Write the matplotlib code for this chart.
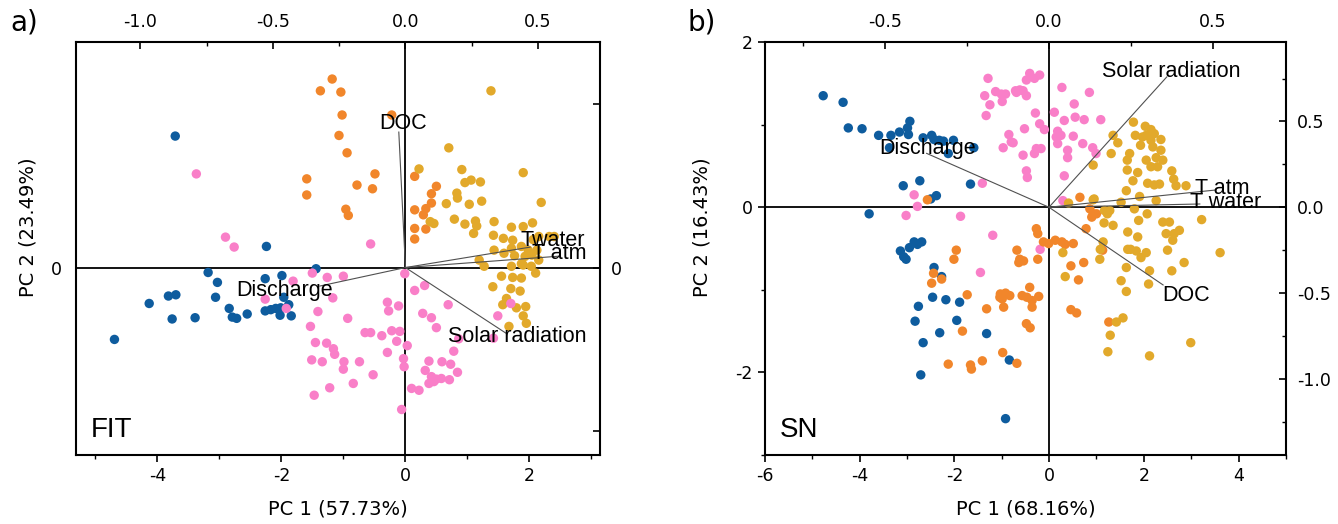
import numpy as np
import matplotlib
matplotlib.use('Agg')
import matplotlib.pyplot as plt
from matplotlib.ticker import FixedLocator

plt.rcParams['axes.unicode_minus'] = False
plt.rcParams['font.family'] = 'DejaVu Sans'

colors = {'winter': '#0e5c9e', 'spring': '#f97fc8', 'summer': '#e2a92b', 'autumn': '#f1862b'}

# ---- FIT: PCA scores per season (PC1, PC2)
fit_winter = [(-3.71, 2.12), (-4.69, -1.16), (-4.13, -0.58), (-3.82, -0.46), (-3.70, -0.44), (-3.76, -0.83),
              (-3.39, -0.81), (-3.18, -0.08), (-3.03, -0.24), (-3.06, -0.48), (-2.84, -0.66), (-2.79, -0.80),
              (-2.72, -0.82), (-2.55, -0.75), (-2.24, 0.34), (-2.26, -0.18), (-1.99, -0.13), (-2.26, -0.70),
              (-2.17, -0.68), (-2.09, -0.66), (-2.01, -0.65), (-2.02, -0.77), (-1.88, -0.60), (-1.84, -0.78),
              (-1.96, -0.48), (-1.44, -0.02)]
fit_autumn = [(-1.18, 3.04), (-1.37, 2.85), (-1.04, 2.83), (-1.02, 2.46), (-1.07, 2.13), (-0.94, 1.85),
              (-0.49, 1.51), (-0.78, 1.33), (-0.53, 1.27), (-1.59, 1.43), (-1.59, 1.17), (-0.96, 0.94),
              (-0.92, 0.84), (-0.22, 2.46), (0.15, 1.47), (0.50, 1.31), (0.42, 1.19), (0.42, 1.04),
              (0.33, 0.95), (0.15, 0.93), (0.29, 0.85), (0.15, 0.63), (0.33, 0.62), (0.15, 0.46)]
fit_summer = [(1.38, 2.85), (0.70, 1.93), (0.22, 1.59), (0.91, 1.58), (1.90, 1.53), (0.96, 1.37), (1.06, 1.41),
              (1.21, 1.38), (0.83, 1.20), (0.84, 1.12), (0.66, 1.03), (1.03, 1.02), (1.23, 1.07), (2.19, 1.05),
              (0.79, 0.78), (1.13, 0.75), (0.96, 0.70), (1.15, 0.67), (1.10, 0.55), (1.43, 0.74), (1.71, 0.65),
              (1.90, 0.66), (2.05, 0.72), (1.42, 0.52), (1.58, 0.47), (1.73, 0.44), (0.40, 0.74), (0.46, 0.71),
              (2.06, 0.45), (2.15, 0.50), (2.32, 0.50), (2.40, 0.50), (1.71, 0.31), (1.87, 0.34), (1.98, 0.28),
              (2.12, 0.28), (1.43, 0.28), (1.59, 0.23), (1.76, 0.19), (1.93, 0.18), (2.04, 0.20), (2.15, 0.12),
              (1.19, 0.12), (1.27, 0.02), (1.71, 0.02), (1.87, 0.06), (2.03, 0.02), (2.10, -0.09), (1.55, -0.14),
              (1.73, -0.16), (1.87, -0.17), (1.41, -0.31), (1.70, -0.34), (1.85, -0.38), (1.63, -0.50),
              (1.57, -0.60), (1.79, -0.65), (1.94, -0.63), (1.90, -0.78), (1.95, -0.90), (1.67, -0.95),
              (1.90, 0.04)]
fit_spring = [(-3.37, 1.51), (-2.90, 0.49), (-2.76, 0.33), (-0.56, 0.38), (-1.50, -0.09), (-1.81, -0.22),
              (-1.26, -0.16), (-2.26, -0.51), (-1.92, -0.66), (-1.17, -0.49), (-1.41, -0.71), (-1.53, -0.95),
              (-1.45, -1.21), (-1.27, -1.22), (-1.16, -1.31), (-1.14, -1.40), (-1.51, -1.49), (-1.34, -1.52),
              (-1.22, -1.94), (-1.47, -2.06), (-1.00, -0.14), (-0.01, -0.10), (0.15, -0.37), (0.31, -0.29),
              (-0.29, -0.56), (-0.27, -0.70), (-0.11, -0.62), (0.69, -0.60), (0.28, -0.74), (0.42, -0.81),
              (0.50, -0.97), (-0.93, -0.82), (-0.65, -1.05), (-0.56, -1.05), (-0.38, -1.10), (-0.22, -1.02),
              (-0.09, -1.03), (-0.14, -1.19), (0.03, -1.26), (-0.29, -1.37), (-0.99, -1.52), (-1.00, -1.64),
              (-0.74, -1.52), (-0.52, -1.73), (-0.84, -1.87), (-0.03, -1.47), (-0.02, -1.60), (0.38, -1.51),
              (0.32, -1.66), (0.59, -1.52), (0.73, -1.56), (0.78, -1.35), (0.84, -1.69), (0.42, -1.76),
              (0.50, -1.80), (0.58, -1.79), (0.38, -1.87), (0.46, -1.84), (0.71, -1.81), (0.10, -1.95),
              (0.22, -1.98), (-0.06, -2.29), (0.86, -1.15), (1.42, -1.14), (1.70, -0.58), (1.49, -0.78)]

# FIT loadings
fit_vars = ['DOC', 'Discharge', 'Solar radiation', 'Twater', 'T atm']
fit_load_x = [-0.025, -0.323, 0.379, 0.470, 0.583]
fit_load_y = [0.498, -0.068, -0.241, 0.075, 0.042]

# ---- SN: PCA scores per season
sn_winter = [(-4.77, 1.35), (-4.35, 1.27), (-4.24, 0.96), (-3.95, 0.95), (-3.60, 0.87), (-3.34, 0.87),
             (-3.16, 0.91), (-2.97, 0.88), (-2.99, 0.96), (-2.94, 1.04), (-2.66, 0.84), (-2.48, 0.87),
             (-2.43, 0.82), (-2.32, 0.81), (-2.23, 0.80), (-2.02, 0.81), (-1.59, 0.72), (-2.13, 0.65),
             (-3.37, 0.72), (-3.08, 0.26), (-2.73, 0.32), (-1.66, 0.28), (-2.50, 0.10), (-2.38, 0.14),
             (-3.80, -0.08), (-3.14, -0.53), (-3.07, -0.60), (-3.02, -0.63), (-2.95, -0.49), (-2.85, -0.42),
             (-2.69, -0.42), (-2.78, -0.45), (-2.43, -0.73), (-2.27, -0.84), (-2.46, -1.09), (-2.18, -1.12),
             (-1.89, -1.15), (-2.76, -1.20), (-2.83, -1.38), (-1.95, -1.37), (-2.31, -1.52), (-1.32, -1.53),
             (-2.66, -1.64), (-0.84, -1.85), (-2.71, -2.03), (-0.92, -2.56)]
sn_spring = [(-1.29, 1.56), (-1.36, 1.35), (-1.25, 1.24), (-1.13, 1.40), (-1.01, 1.37), (-0.92, 1.37),
             (-0.99, 1.28), (-1.33, 1.11), (-0.71, 1.41), (-0.62, 1.42), (-0.55, 1.41), (-0.48, 1.35),
             (-0.48, 1.54), (-0.41, 1.62), (-0.31, 1.56), (-0.20, 1.60), (-0.69, 1.39), (0.27, 1.45),
             (0.85, 1.39), (-0.29, 1.14), (0.11, 1.15), (0.53, 1.25), (0.32, 1.05), (0.55, 1.09), (0.74, 1.06),
             (1.09, 1.06), (-0.85, 0.88), (-0.52, 0.95), (-0.20, 1.01), (-0.10, 0.94), (-0.76, 0.78),
             (-0.97, 0.72), (-0.80, 0.79), (0.18, 0.92), (0.25, 0.87), (0.15, 0.85), (0.18, 0.77), (0.51, 0.86),
             (0.71, 0.77), (0.92, 0.72), (0.99, 0.65), (0.39, 0.69), (0.39, 0.60), (-0.27, 0.71), (-0.17, 0.71),
             (-0.31, 0.65), (-0.55, 0.63), (-0.48, 0.44), (-0.46, 0.36), (0.32, 0.38), (0.29, 0.08),
             (-1.41, 0.29), (-2.85, 0.15), (-2.78, 0.01), (-3.02, -0.10), (-1.87, -0.11), (-1.19, -0.34),
             (-1.45, -0.79), (-0.19, -0.51)]
sn_autumn = [(-2.57, 0.09), (-1.96, -0.52), (-2.01, -0.63), (-2.44, -0.80), (-2.48, -0.92), (-2.27, -0.87),
             (-1.73, -1.06), (-1.83, -1.50), (-2.13, -1.90), (-1.66, -1.91), (-1.64, -1.96), (-1.41, -1.86),
             (-0.98, -1.76), (-0.68, -1.89), (-1.32, -1.23), (-1.03, -1.05), (-0.92, -1.04), (-0.83, -1.07),
             (-0.99, -1.11), (-0.96, -1.21), (-1.04, -1.09), (-0.57, -1.07), (-0.47, -1.09), (-0.36, -1.13),
             (-0.22, -1.08), (-0.41, -0.97), (-0.36, -1.21), (-0.48, -1.41), (-0.40, -1.46), (-0.68, -0.52),
             (-0.62, -0.63), (-0.54, -0.65), (-0.64, -0.67), (-0.24, -0.63), (-0.27, -0.26), (-0.24, -0.32),
             (-0.12, -0.42), (-0.01, -0.44), (0.13, -0.40), (0.27, -0.42), (0.34, -0.45), (0.51, -0.44),
             (0.65, 0.12), (0.86, -0.02), (0.93, -0.08), (0.90, -0.12), (1.00, -0.08), (0.78, -0.26),
             (1.13, -0.52), (0.46, -0.71), (0.73, -0.67), (0.62, -0.88), (0.46, -1.24), (0.58, -1.28),
             (1.26, -1.39)]
sn_summer = [(1.78, 1.03), (2.03, 0.98), (2.15, 0.94), (2.22, 0.89), (2.05, 0.87), (1.97, 0.85), (2.15, 0.81),
             (2.36, 0.82), (1.82, 0.87), (1.93, 0.75), (2.19, 0.73), (2.36, 0.69), (1.35, 0.87), (1.45, 0.78),
             (1.31, 0.65), (1.70, 0.65), (1.65, 0.57), (2.05, 0.57), (2.26, 0.60), (2.15, 0.49), (2.29, 0.49),
             (2.40, 0.57), (1.65, 0.45), (1.87, 0.42), (1.77, 0.32), (2.08, 0.29), (2.22, 0.27), (2.33, 0.28),
             (2.59, 0.44), (2.63, 0.34), (2.68, 0.26), (2.89, 0.26), (0.93, 0.51), (1.63, 0.20), (1.91, 0.13),
             (1.52, 0.06), (1.80, -0.02), (2.07, -0.08), (2.26, 0.08), (2.40, -0.18), (2.54, -0.18),
             (2.64, -0.32), (2.47, -0.32), (2.61, -0.40), (2.75, -0.28), (3.22, -0.15), (3.61, -0.55),
             (1.89, -0.16), (1.66, -0.30), (1.87, -0.36), (1.66, -0.51), (1.84, -0.53), (2.05, -0.55),
             (1.94, -0.61), (1.63, -0.73), (2.12, -0.77), (2.50, -0.52), (2.59, -0.77), (2.85, -0.67),
             (1.52, -0.89), (1.63, -1.02), (2.10, -0.93), (1.08, -0.51), (1.07, -0.63), (1.14, -0.42),
             (1.17, -0.04), (1.28, -0.04), (0.95, 0.10), (1.23, -0.08), (1.35, -0.22), (0.34, -0.84),
             (0.29, -0.55), (0.41, 0.05), (0.93, 0.09), (1.42, -1.39), (1.56, -1.34), (1.29, -1.55),
             (1.24, -1.75), (2.12, -1.80), (2.99, -1.64), (1.72, -0.51), (1.16, -0.19)]

# SN loadings
sn_vars = ['Solar radiation', 'Discharge', 'DOC', 'T atm', 'T water']
sn_load_x = [0.359, -0.373, 0.348, 0.506, 0.460]
sn_load_y = [0.759, 0.314, -0.453, 0.100, 0.019]

fig = plt.figure(figsize=(13.38, 5.24), dpi=100)


def draw_panel(pos, scores, load_x, load_y, names, label_offsets, cfg):
    ax = fig.add_axes(pos)
    for season, pts in scores.items():
        xy = np.array(pts)
        ax.scatter(xy[:, 0], xy[:, 1], s=46, color=colors[season], edgecolors='none', zorder=3)
    ax.axhline(0, color='black', lw=1.3, zorder=1)
    ax.axvline(0, color='black', lw=1.3, zorder=1)
    ax.set_xlim(cfg['xlim'])
    ax.set_ylim(cfg['ylim'])
    ax.set_xticks(cfg['xticks'])
    ax.set_xticklabels([f'{v:g}' for v in cfg['xticks']])
    ax.xaxis.set_minor_locator(FixedLocator(cfg['xminor']))
    ax.set_yticks(cfg['yticks'])
    ax.set_yticklabels([f'{v:g}' for v in cfg['yticks']])
    ax.yaxis.set_minor_locator(FixedLocator(cfg['yminor']))
    ax.tick_params(which='major', direction='out', length=5, width=1.2, labelsize=12.5, pad=4)
    ax.tick_params(which='minor', direction='out', length=3, width=1.0)
    ax.tick_params(axis='y', which='major', length=cfg['ylen'], pad=cfg['ypad'])
    for sp in ax.spines.values():
        sp.set_linewidth(1.5)
    ax.set_xlabel(cfg['xlabel'], fontsize=14)
    ax.set_ylabel(cfg['ylabel'], fontsize=14)
    ax.xaxis.set_label_coords(0.5, -0.108)
    ax.yaxis.set_label_coords(cfg['ylabx'], 0.552)
    ax.text(0.029, 0.044, cfg['tag'], transform=ax.transAxes, fontsize=20,
            family='Liberation Sans', va='baseline', ha='left')

    # loadings axes (top / right)
    axl = fig.add_axes(pos, frameon=False)
    axl.patch.set_visible(False)
    axl.set_xlim(cfg['lxlim'])
    axl.set_ylim(cfg['lylim'])
    axl.xaxis.tick_top()
    axl.yaxis.tick_right()
    axl.set_xticks(cfg['lxticks'])
    axl.set_xticklabels(cfg['lxlabels'])
    axl.xaxis.set_minor_locator(FixedLocator(cfg['lxminor']))
    axl.set_yticks(cfg['lyticks'])
    axl.set_yticklabels(cfg['lylabels'])
    axl.yaxis.set_minor_locator(FixedLocator(cfg['lyminor']))
    axl.tick_params(which='major', direction='in', length=5, width=1.2, labelsize=12.5, pad=8)
    axl.tick_params(which='minor', direction='in', length=3, width=1.0)
    for name, lx, ly in zip(names, load_x, load_y):
        axl.plot([0, lx], [0, ly], color='#505050', lw=0.8, zorder=4)
        dx, dy = label_offsets[name]
        axl.text(lx + dx, ly + dy, name, fontsize=15.5, family='Liberation Sans',
                 ha='center', va='center', zorder=5)
    return ax


fit_cfg = dict(xlim=(-5.31, 3.137), ylim=(-3.024, 3.637),
               xticks=[-4, -2, 0, 2], xminor=[-5, -3, -1, 1, 3],
               yticks=[0], yminor=[], ylen=0, ypad=10,
               xlabel='PC 1 (57.73%)', ylabel='PC 2 (23.49%)', ylabx=-0.073, tag='FIT',
               lxlim=(-1.243, 0.734), lylim=(-0.689, 0.829),
               lxticks=[-1.0, -0.5, 0.0, 0.5], lxlabels=['-1.0', '-0.5', '0.0', '0.5'],
               lxminor=[-0.75, -0.25, 0.25],
               lyticks=[-0.6, 0.0, 0.6], lylabels=['', '0', ''], lyminor=[])
fit_offsets = {'DOC': (0.016, 0.033), 'Discharge': (-0.132, -0.015), 'Solar radiation': (0.042, -0.011),
               'Twater': (0.087, 0.026), 'T atm': (-0.004, 0.011)}

sn_cfg = dict(xlim=(-6, 5), ylim=(-3, 2),
              xticks=[-6, -4, -2, 0, 2, 4], xminor=[-5, -3, -1, 1, 3, 5],
              yticks=[-2, 0, 2], yminor=[-3, -1, 1], ylen=5, ypad=4,
              xlabel='PC 1 (68.16%)', ylabel='PC 2 (16.43%)', ylabx=-0.102, tag='SN',
              lxlim=(-0.866, 0.7226), lylim=(-1.444, 0.963),
              lxticks=[-0.5, 0.0, 0.5], lxlabels=['-0.5', '0.0', '0.5'],
              lxminor=[-0.75, -0.25, 0.25],
              lyticks=[-1.0, -0.5, 0.0, 0.5], lylabels=['-1.0', '-0.5', '0.0', '0.5'],
              lyminor=[-1.25, -0.75, -0.25, 0.25, 0.75])
sn_offsets = {'Solar radiation': (0.015, 0.031), 'Discharge': (0.003, 0.031), 'DOC': (0.07, -0.059),
              'T atm': (0.021, 0.012), 'T water': (0.08, 0.011)}

draw_panel([0.0568, 0.1317, 0.3916, 0.7881],
           {'winter': fit_winter, 'autumn': fit_autumn, 'summer': fit_summer, 'spring': fit_spring},
           fit_load_x, fit_load_y, fit_vars, fit_offsets, fit_cfg)
draw_panel([0.5717, 0.1317, 0.3894, 0.7881],
           {'winter': sn_winter, 'spring': sn_spring, 'autumn': sn_autumn, 'summer': sn_summer},
           sn_load_x, sn_load_y, sn_vars, sn_offsets, sn_cfg)

fig.text(0.0075, 1 - 22 / 524, 'a)', fontsize=20, va='center', ha='left')
fig.text(0.514, 1 - 22 / 524, 'b)', fontsize=20, va='center', ha='left')

fig.savefig('out.png', dpi=100)
